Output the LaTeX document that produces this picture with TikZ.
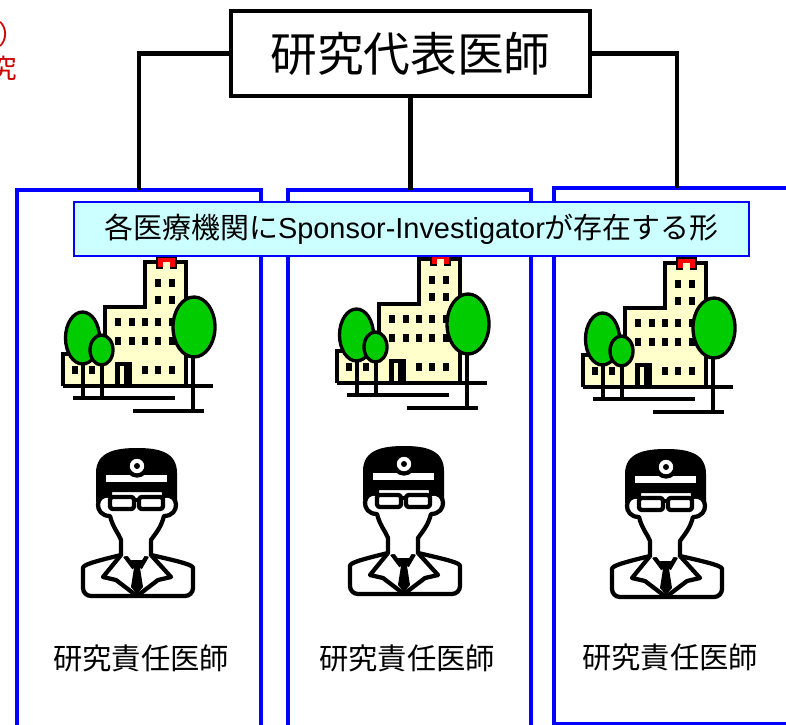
\documentclass[tikz,border=0pt]{standalone}
\usepackage{fontspec}
\setmainfont{Noto Sans CJK JP}
\newfontfamily\latinfont{Liberation Sans}

\definecolor{siteblue}{RGB}{0,0,255}
\definecolor{bannercyan}{RGB}{204,255,255}
\definecolor{wallyellow}{RGB}{255,255,204}
\definecolor{treegreen}{RGB}{0,204,0}
\definecolor{notered}{RGB}{204,0,0}

\tikzset{
    headbox/.style={draw,line width=3pt,minimum width=269pt,minimum height=64pt,
        inner sep=0pt,font=\fontsize{35}{35}\selectfont},
    sitebox/.style={draw=siteblue,line width=2.8pt},
    banner/.style={draw=siteblue,fill=bannercyan,line width=1.1pt,minimum width=506pt,
        minimum height=40.5pt,inner sep=0pt,font=\fontsize{21.7}{21.7}\selectfont},
    link/.style={line width=3.6pt},
    rolelabel/.style={inner sep=0pt,font=\fontsize{22}{22}\selectfont},
    note/.style={inner sep=0pt,text=notered,font=\fontsize{20}{20}\selectfont},
    % hospital: origin at the left end of the low wing, top of the tower
    hospital/.pic={
        \fill[wallyellow] (0,124) -- (0,92) -- (42,92) -- (42,45) -- (82,45) -- (82,0)
            -- (123,0) -- (123,124) -- cycle;
        \draw[line width=2.5pt] (0,124) -- (0,92) -- (42,92) -- (42,45) -- (82,45) -- (82,0)
            -- (123,0) -- (123,124);
        \draw[line width=1.2pt,fill=red] (94,-5) rectangle (113,6);
        \fill[wallyellow] (100,0) rectangle (107,6.5);
        % windows
        \foreach \wx in {95,109}
            \foreach \wy in {21,38}
                \fill (\wx-3,\wy-4) rectangle +(6,8);
        \foreach \wx in {55,69,82,95,109}
            \foreach \wy in {60,79}
                \fill (\wx-3,\wy-4) rectangle +(6,8);
        \foreach \wx in {12,29,82,95,109}
            \fill (\wx-3,108-4) rectangle +(6,8);
        % door
        \fill (52,100) rectangle (69,124);
        \fill[wallyellow] (57,104) rectangle (61,124);
        % trees
        \draw[line width=2.5pt,fill=treegreen] (19.5,76) ellipse (17 and 26);
        \draw[line width=2.5pt,fill=treegreen] (38.5,88) ellipse (11.5 and 15);
        \draw[line width=2.5pt,fill=treegreen] (131,65) ellipse (21 and 30);
        \draw[line width=2.5pt] (20,102) -- (20,136);
        \draw[line width=2.5pt] (39,103) -- (39,136);
        \draw[line width=2.5pt] (130,95) -- (130,149);
        % ground
        \draw[line width=3pt] (0,124) -- (150,124);
        \draw[line width=3pt] (10,136) -- (112,136);
        \draw[line width=3pt] (70,149) -- (141,149);
    },
    % doctor: origin at the head mirror's x, top of the hair
    doctor/.pic={
        \begin{scope}[line width=3.2pt,line join=round]
        % coat
        \draw[fill=white,rounded corners=6pt] (14,107) .. controls (45,114) and (56,117) .. (56,128)
            -- (56,148) -- (-54,148) -- (-54,128) .. controls (-54,117) and (-45,114) .. (-16,107);
        \draw (-16,107) -- (-34,129) -- (-21,132) -- (0,148) -- (21,132) -- (34,129) -- (14,107);
        \draw (-12,108) -- (-3,120);
        \draw (10,108) -- (3,120);
        \fill (-6,112) -- (6,112) -- (3,120) -- (-3,120) -- cycle;
        \fill (-3,120) -- (3,120) -- (6,139) -- (0,146) -- (-6,139) -- cycle;
        % hair
        \fill (-41,54) -- (-41,25) .. controls (-41,4) and (-22,0) .. (0,0)
            .. controls (22,0) and (40,4) .. (40,25) -- (40,54) -- cycle;
        % face
        \draw[fill=white] (-16,108) -- (-16,92) .. controls (-18,86) and (-24,80) .. (-27,68)
            .. controls (-44,68) and (-42,44) .. (-27,48) -- (-27,42) -- (27,42) -- (27,48)
            .. controls (42,44) and (44,68) .. (27,68) .. controls (24,80) and (18,86) .. (14,92)
            -- (14,108);
        % glasses
        \draw[fill=white,rounded corners=2pt] (-27,49) rectangle (-3,61);
        \draw[fill=white,rounded corners=2pt] (2,49) rectangle (26,61);
        \draw (-3,52) -- (2,52);
        % head band and mirror
        \draw[fill=white] (-33,25) rectangle (32,36);
        \draw[fill=white] (0,18) circle (9.5);
        \fill (0,18) circle (3);
        \end{scope}
    },
}

\begin{document}
\begin{tikzpicture}[x=0.75pt,y=-0.75pt]
    \useasboundingbox (0,0) rectangle (786,725);
    \clip (0,0) rectangle (786,725);

    % red note, cut at the left edge
    \node[note,anchor=west] (noteA) at (-2,34) {）};
    \node[note,anchor=east] (noteB) at (17,68) {究};

    % principal investigator and the three sites
    \node[headbox] (pi) at (410.5,53.5) {研究代表医師};

    \draw[sitebox] (17,760) |- (261,190) -- (261,760);
    \draw[sitebox] (288,760) |- (531,190) -- (531,760);
    \draw[sitebox] (554,724) rectangle (800,188);

    \coordinate (siteA) at (139,190);
    \coordinate (siteB) at (410.5,190);
    \coordinate (siteC) at (677,188);

    \draw[link] (pi.west) -| (siteA);
    \draw[link] (pi.south) -- (siteB);
    \draw[link] (pi.east) -| (siteC);

    % icons and roles per site
    \pic at (63,262) {hospital};
    \pic at (337,259) {hospital};
    \pic at (583,263) {hospital};

    \pic at (137,448) {doctor};
    \pic at (404,446) {doctor};
    \pic at (666,449) {doctor};

    \node[rolelabel] (roleA) at (141,658) {研究責任医師};
    \node[rolelabel] (roleB) at (407,658) {研究責任医師};
    \node[rolelabel] (roleC) at (670,657) {研究責任医師};

    \node[banner] (form) at (411.5,229) {各医療機関に{\latinfont Sponsor-Investigator}が存在する形};
\end{tikzpicture}
\end{document}
